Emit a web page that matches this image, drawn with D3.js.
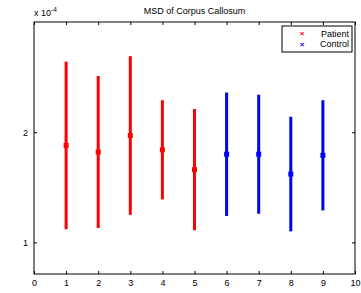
<!DOCTYPE html>
<html lang="en">
<head>
<meta charset="UTF-8">
<title>MSD of Corpus Callosum</title>
<script src="https://d3js.org/d3.v7.min.js"></script>
<style>
  body { margin: 0; background: #fff; }
  svg { display: block; font-family: "Liberation Sans", Arial, sans-serif; }
  text { fill: #000; }
</style>
</head>
<body>
<svg id="chart" width="361" height="293"></svg>
<script>
// values in units of 1e-4
const groups = ["Patient", "Control"];
const groupColors = ["#ff0000", "#0000ff"];
const subjects = [1, 2, 3, 4, 5, 6, 7, 8, 9];
const subjectGroup = [0, 0, 0, 0, 0, 1, 1, 1, 1];
const means = [1.88, 1.82, 1.97, 1.84, 1.66, 1.80, 1.80, 1.62, 1.79];
const errs = [0.76, 0.69, 0.72, 0.45, 0.55, 0.56, 0.54, 0.52, 0.50];
const xTicks = [0, 1, 2, 3, 4, 5, 6, 7, 8, 9, 10];
const yTicks = [1, 2];

const plotL = 34, plotR = 355, plotT = 22, plotB = 274;
const fs = 9;

const svg = d3.select("#chart");

const x = d3.scaleLinear().domain([0, 10]).range([plotL, plotR]);
const y = d3.scaleLinear().domain([0.713, 3.0]).range([plotB, plotT]);

// error bars
const bars = svg.append("g");
subjects.forEach((s, i) => {
    const c = groupColors[subjectGroup[i]];
    bars.append("line")
        .attr("x1", x(s)).attr("x2", x(s))
        .attr("y1", y(means[i] - errs[i])).attr("y2", y(means[i] + errs[i]))
        .attr("stroke", c).attr("stroke-width", 3);
    bars.append("rect")
        .attr("x", x(s) - 2.5).attr("y", y(means[i]) - 2.5)
        .attr("width", 5).attr("height", 5)
        .attr("fill", c);
});

// axes box
svg.append("rect")
    .attr("x", plotL).attr("y", plotT)
    .attr("width", plotR - plotL).attr("height", plotB - plotT)
    .attr("fill", "none").attr("stroke", "#000").attr("stroke-width", 1);

const tl = 3;
const fmt = d3.format("d");
svg.append("g").attr("transform", `translate(0,${plotB})`)
    .call(d3.axisBottom(x).tickValues(xTicks).tickSizeInner(-tl).tickSizeOuter(0).tickPadding(6).tickFormat(fmt))
    .call(g => g.select(".domain").remove());
svg.append("g").attr("transform", `translate(0,${plotT})`)
    .call(d3.axisTop(x).tickValues(xTicks).tickSizeInner(-tl).tickSizeOuter(0).tickFormat(""))
    .call(g => g.select(".domain").remove());
svg.append("g").attr("transform", `translate(${plotL},0)`)
    .call(d3.axisLeft(y).tickValues(yTicks).tickSizeInner(-tl).tickSizeOuter(0).tickPadding(6).tickFormat(fmt))
    .call(g => g.select(".domain").remove());
svg.append("g").attr("transform", `translate(${plotR},0)`)
    .call(d3.axisRight(y).tickValues(yTicks).tickSizeInner(-tl).tickSizeOuter(0).tickFormat(""))
    .call(g => g.select(".domain").remove());

svg.selectAll(".tick line").attr("stroke", "#000");
svg.selectAll(".tick text").attr("font-size", fs).attr("fill", "#000")
    .style("font-family", "'Liberation Sans', Arial, sans-serif");

// exponent label
const ex = svg.append("text").attr("x", plotL).attr("y", 16).attr("font-size", fs);
ex.append("tspan").text("x 10");
ex.append("tspan").attr("dy", -4).attr("font-size", 6.5).text("-4");

// title
svg.append("text").attr("x", (plotL + plotR) / 2).attr("y", 14)
    .attr("text-anchor", "middle").attr("font-size", fs).text("MSD of Corpus Callosum");

// legend
const lg = svg.append("g");
lg.append("rect").attr("x", 282).attr("y", 26).attr("width", 70).attr("height", 26)
    .attr("fill", "#fff").attr("stroke", "#000").attr("stroke-width", 1);
groups.forEach((gname, i) => {
    const cy = 33.5 + i * 10.5;
    lg.append("text").attr("x", 302).attr("y", cy + 2.5).attr("text-anchor", "middle")
        .attr("font-size", 8).attr("font-weight", "bold").style("fill", groupColors[i]).text("\u00d7");
    lg.append("text").attr("x", 349).attr("y", cy + 3).attr("text-anchor", "end")
        .attr("font-size", fs).text(gname);
});
</script>
</body>
</html>
